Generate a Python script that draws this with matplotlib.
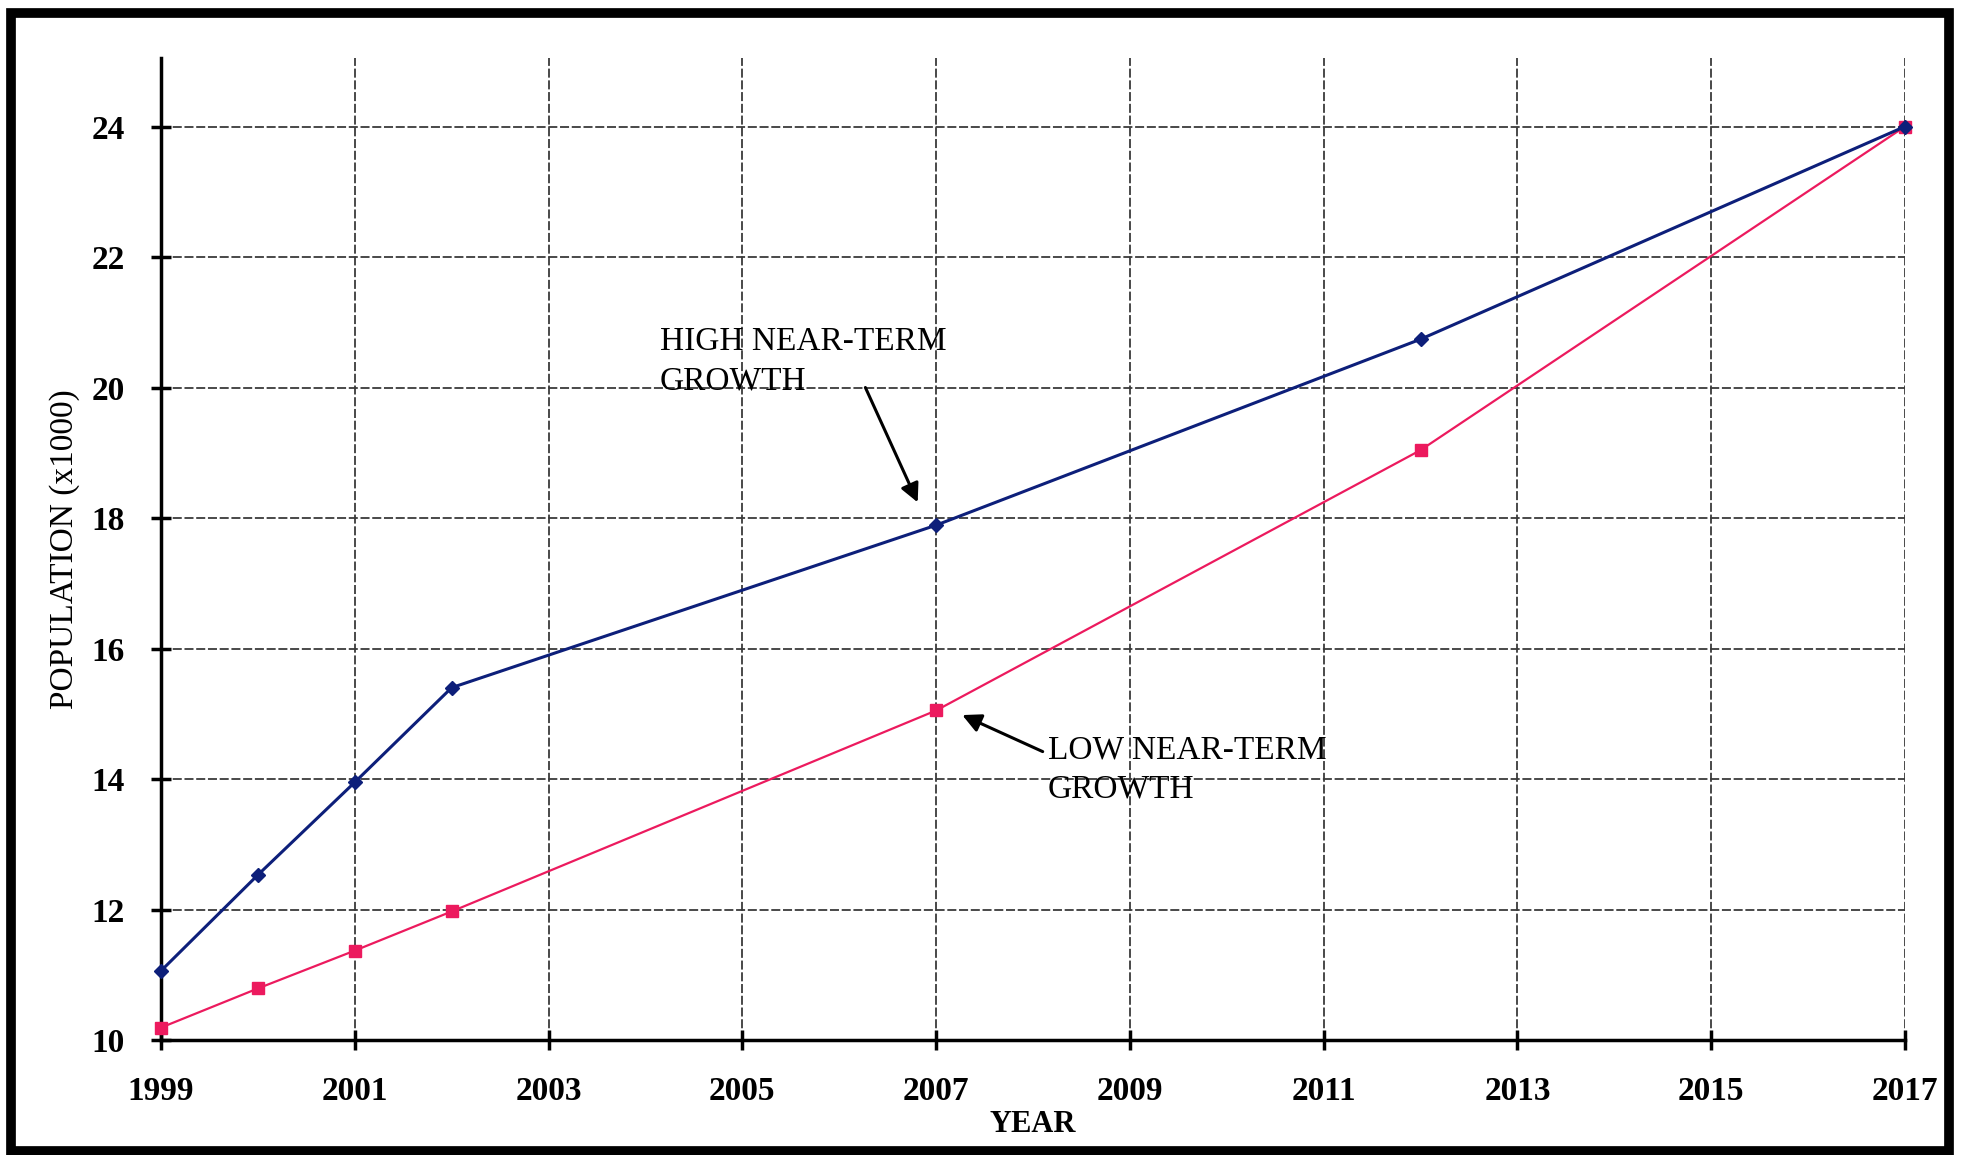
import matplotlib
matplotlib.use("Agg")
import matplotlib.pyplot as plt
from matplotlib.patches import Rectangle

# ---- data ----
years = [1999, 2000, 2001, 2002, 2007, 2012, 2017]
high_growth = [11.06, 12.53, 13.95, 15.40, 17.89, 20.74, 24.0]
low_growth = [10.19, 10.79, 11.37, 11.97, 15.05, 19.04, 24.0]
x_ticks = [1999, 2001, 2003, 2005, 2007, 2009, 2011, 2013, 2015, 2017]
y_ticks = [10, 12, 14, 16, 18, 20, 22, 24]
high_label = "HIGH NEAR-TERM\nGROWTH"
low_label = "LOW NEAR-TERM\nGROWTH"

SERIF = ["Liberation Serif", "DejaVu Serif"]
W, H = 1971, 1155
fig = plt.figure(figsize=(W / 100, H / 100), dpi=100)
fig.patch.set_facecolor("white")

# outer thick frame
fig.add_artist(Rectangle((11 / W, 1 - 1151 / H), (1949 - 11) / W, (1151 - 13) / H,
                         transform=fig.transFigure, fill=False, edgecolor="black",
                         linewidth=7, zorder=10))

ax = fig.add_axes([161 / W, 1 - 1040 / H, (1905 - 161) / W, (1040 - 58) / H])
ax.set_xlim(1999, 2017)
ax.set_ylim(10, 25.05)

ax.plot(years, low_growth, color="#ec1a5e", lw=1.6, marker="s", ms=9,
        markeredgecolor="#ec1a5e", markerfacecolor="#ec1a5e", zorder=4, clip_on=False)
ax.plot(years, high_growth, color="#0d1f7a", lw=2.2, marker="D", ms=7.5,
        markeredgecolor="#0d1f7a", markerfacecolor="#0d1f7a", zorder=5, clip_on=False)

ax.set_xticks(x_ticks)
ax.set_yticks(y_ticks)
ax.set_xticklabels([str(v) for v in x_ticks])
ax.set_yticklabels([str(v) for v in y_ticks])
for lab in ax.get_xticklabels() + ax.get_yticklabels():
    lab.set_fontfamily(SERIF)
    lab.set_fontweight("bold")
    lab.set_fontsize(24)
ax.tick_params(axis="both", direction="inout", length=14, width=2.5, color="black")
ax.tick_params(axis="x", pad=19)
ax.tick_params(axis="y", pad=19)

ax.grid(True, color="#3a3a3a", lw=1.3, linestyle=(0, (5, 1.5)))
ax.set_axisbelow(True)

for s in ["top", "right"]:
    ax.spines[s].set_visible(False)
for s in ["left", "bottom"]:
    ax.spines[s].set_linewidth(2.5)
    ax.spines[s].set_color("black")

ax.set_ylabel("POPULATION (x1000)", fontfamily=SERIF, fontsize=24, labelpad=8)
ax.set_xlabel("YEAR", fontfamily=SERIF, fontsize=22, fontweight="bold", labelpad=2)

ax.text(2004.15, 20.93, high_label, fontfamily=SERIF, fontsize=24, va="top", ha="left",
        linespacing=1.38, zorder=6)
ax.annotate("", xy=(2006.81, 18.24), xytext=(2006.27, 20.0),
            arrowprops=dict(arrowstyle="-|>", color="black", lw=2.2, mutation_scale=28,
                            shrinkA=0, shrinkB=0), zorder=6)

ax.text(2008.15, 14.68, low_label, fontfamily=SERIF, fontsize=24, va="top", ha="left",
        linespacing=1.38, zorder=6)
ax.annotate("", xy=(2007.27, 14.98), xytext=(2008.10, 14.42),
            arrowprops=dict(arrowstyle="-|>", color="black", lw=2.2, mutation_scale=28,
                            shrinkA=0, shrinkB=0), zorder=6)

fig.savefig("out.png", dpi=100, facecolor="white")
